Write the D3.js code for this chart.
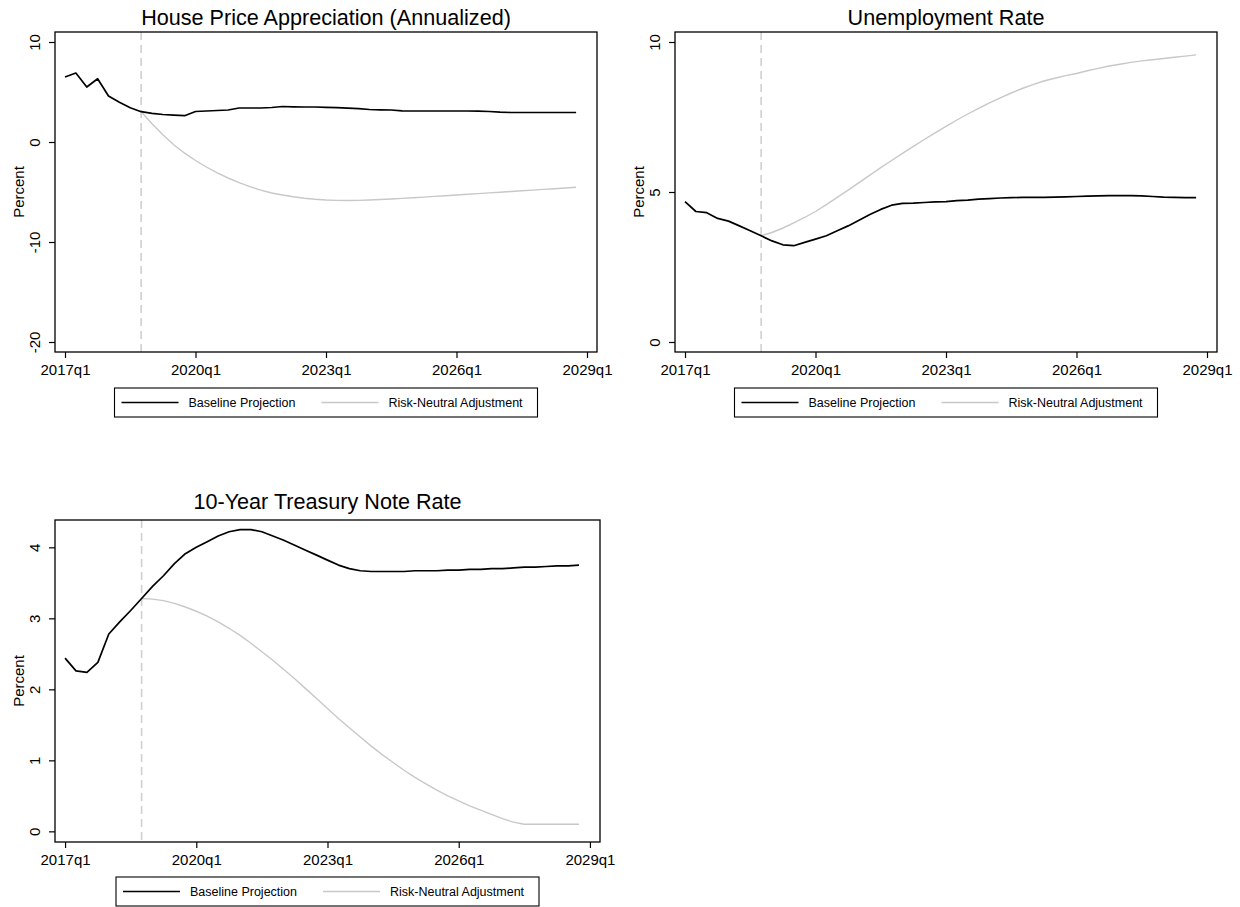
<!DOCTYPE html>
<html>
<head>
<meta charset="utf-8">
<script src="https://cdn.jsdelivr.net/npm/d3@7"></script>
<style>
body { margin: 0; background: #fff; }
svg { display: block; font-family: "Liberation Sans", Arial, sans-serif; }
</style>
</head>
<body>
<svg id="chart" width="1240" height="907"></svg>
<script>
// quarterly data, 2017q1 .. 2028q4
var FIRST_YEAR = 2017;
var quarters = [];
for (var yr = 2017; yr <= 2028; yr++) {
    for (var q = 1; q <= 4; q++) quarters.push(yr + "q" + q);
}
var xTickLabels = ["2017q1", "2020q1", "2023q1", "2026q1", "2029q1"];
var forecastStart = "2018q4";   // dashed line, start of risk-neutral path
var seriesNames = ["Baseline Projection", "Risk-Neutral Adjustment"];

// House price appreciation (annualized, percent)
var hpaBaseline = [6.5, 6.9, 5.5, 6.33, 4.6, 3.97, 3.43, 3.03, 2.87, 2.75,
    2.68, 2.63, 3.05, 3.1, 3.15, 3.2, 3.4, 3.4, 3.4, 3.45,
    3.55, 3.52, 3.5, 3.5, 3.47, 3.43, 3.38, 3.33, 3.25, 3.22,
    3.2, 3.12, 3.1, 3.1, 3.1, 3.1, 3.1, 3.1, 3.08, 3.05,
    2.98, 2.95, 2.95, 2.95, 2.95, 2.95, 2.95, 2.95];
var hpaRiskNeutral = [3.03, 1.83, 0.73, -0.27, -1.12, -1.85, -2.5, -3.08, -3.6, -4.06,
    -4.46, -4.81, -5.1, -5.3, -5.48, -5.62, -5.73, -5.8, -5.84, -5.85,
    -5.84, -5.8, -5.75, -5.7, -5.64, -5.58, -5.51, -5.44, -5.37, -5.3,
    -5.23, -5.16, -5.09, -5.02, -4.95, -4.88, -4.81, -4.74, -4.67, -4.6, -4.53];

// Unemployment rate (percent)
var urBaseline = [4.68, 4.35, 4.31, 4.12, 4.03, 3.87, 3.71, 3.54, 3.37, 3.24,
    3.21, 3.32, 3.43, 3.54, 3.71, 3.87, 4.06, 4.25, 4.42, 4.56,
    4.62, 4.63, 4.65, 4.67, 4.68, 4.71, 4.73, 4.76, 4.78, 4.8,
    4.81, 4.82, 4.82, 4.82, 4.83, 4.84, 4.85, 4.86, 4.87, 4.88,
    4.88, 4.88, 4.87, 4.85, 4.83, 4.82, 4.81, 4.81];
var urRiskNeutral = [3.54, 3.65, 3.8, 3.97, 4.15, 4.35, 4.58, 4.82, 5.06, 5.31,
    5.56, 5.81, 6.05, 6.29, 6.52, 6.75, 6.97, 7.19, 7.4, 7.6,
    7.79, 7.97, 8.14, 8.3, 8.45, 8.58, 8.7, 8.79, 8.88, 8.95,
    9.04, 9.12, 9.2, 9.26, 9.32, 9.37, 9.41, 9.45, 9.49, 9.53, 9.57];

// 10-year treasury note rate (percent)
var tnBaseline = [2.44, 2.26, 2.24, 2.38, 2.78, 2.95, 3.11, 3.28, 3.45, 3.6,
    3.77, 3.91, 4.0, 4.08, 4.16, 4.22, 4.25, 4.25, 4.22, 4.16,
    4.1, 4.03, 3.96, 3.89, 3.82, 3.75, 3.7, 3.67, 3.66, 3.66,
    3.66, 3.66, 3.67, 3.67, 3.67, 3.68, 3.68, 3.69, 3.69, 3.7,
    3.7, 3.71, 3.72, 3.72, 3.73, 3.74, 3.74, 3.75];
var tnRiskNeutral = [3.28, 3.27, 3.25, 3.21, 3.16, 3.1, 3.03, 2.95, 2.86, 2.76,
    2.65, 2.53, 2.41, 2.28, 2.15, 2.01, 1.87, 1.73, 1.59, 1.46,
    1.33, 1.2, 1.08, 0.97, 0.86, 0.76, 0.67, 0.58, 0.5, 0.43,
    0.36, 0.3, 0.24, 0.18, 0.13, 0.1, 0.1, 0.1, 0.1, 0.1, 0.1];

var hpaYTicks = [-20, -10, 0, 10];
var urYTicks = [0, 5, 10];
var tnYTicks = [0, 1, 2, 3, 4];

var BLACK = "#000";
var GREY = "#c8c8c8";
var DASH_GREY = "#d0d0d0";
var TICK_LEN = 6;
var LEGEND_W = 423;
var LEGEND_H = 29;

function quarterIndex(label) {
    var year = +label.slice(0, 4);
    var q = +label.slice(5);
    return (year - FIRST_YEAR) * 4 + (q - 1);
}

var panels = [
    {title: "House Price Appreciation (Annualized)", baseline: hpaBaseline, riskNeutral: hpaRiskNeutral,
     yTicks: hpaYTicks, yDomain: [-21, 11],
     box: {x0: 55, x1: 597, y0: 32, y1: 352}, titleY: 25, legendY: 388},
    {title: "Unemployment Rate", baseline: urBaseline, riskNeutral: urRiskNeutral,
     yTicks: urYTicks, yDomain: [-1 / 3, 31 / 3],
     box: {x0: 675, x1: 1217, y0: 32, y1: 352}, titleY: 25, legendY: 388},
    {title: "10-Year Treasury Note Rate", baseline: tnBaseline, riskNeutral: tnRiskNeutral,
     yTicks: tnYTicks, yDomain: [-0.15, 4.385],
     box: {x0: 55, x1: 600, y0: 520, y1: 842}, titleY: 509, legendY: 877}
];

var svg = d3.select("#chart");
svg.append("rect").attr("width", 1240).attr("height", 907).attr("fill", "#fff");

function drawPanel(p) {
    var g = svg.append("g");
    var b = p.box;
    var start = quarterIndex(forecastStart);

    var x = d3.scaleLinear().domain([-0.92, 48.92]).range([b.x0, b.x1]);
    var y = d3.scaleLinear().domain(p.yDomain).range([b.y1, b.y0]);

    // title
    g.append("text")
        .attr("x", (b.x0 + b.x1) / 2)
        .attr("y", p.titleY)
        .attr("text-anchor", "middle")
        .style("font-size", "21.6px")
        .text(p.title);

    // x axis
    var xAxis = d3.axisBottom(x)
        .tickValues(xTickLabels.map(quarterIndex))
        .tickFormat(function(d, i) { return xTickLabels[i]; })
        .tickSize(TICK_LEN)
        .tickPadding(6);
    var gx = g.append("g")
        .attr("transform", "translate(0," + b.y1 + ")")
        .call(xAxis);
    gx.select(".domain").remove();
    gx.selectAll(".tick line").attr("stroke", BLACK).attr("stroke-width", 1.2);
    gx.selectAll(".tick text")
        .attr("fill", BLACK)
        .style("font-size", "15px")
        .style("font-family", "'Liberation Sans', Arial, sans-serif");

    // y axis with rotated labels (plain hyphen for negatives)
    var yAxis = d3.axisLeft(y)
        .tickValues(p.yTicks)
        .tickFormat(function(d) { return String(d); })
        .tickSize(TICK_LEN);
    var gy = g.append("g")
        .attr("transform", "translate(" + b.x0 + ",0)")
        .call(yAxis);
    gy.select(".domain").remove();
    gy.selectAll(".tick line").attr("stroke", BLACK).attr("stroke-width", 1.2);
    gy.selectAll(".tick text")
        .attr("x", null).attr("dy", null)
        .attr("fill", BLACK)
        .attr("text-anchor", "middle")
        .attr("transform", "translate(" + (-15) + ",0) rotate(-90)")
        .style("font-size", "15px")
        .style("font-family", "'Liberation Sans', Arial, sans-serif");

    g.append("text")
        .attr("transform", "translate(" + (b.x0 - 31) + "," + ((b.y0 + b.y1) / 2) + ") rotate(-90)")
        .attr("text-anchor", "middle")
        .style("font-size", "15px")
        .text("Percent");

    // forecast start marker
    g.append("line")
        .attr("x1", x(start)).attr("x2", x(start))
        .attr("y1", b.y0).attr("y2", b.y1)
        .attr("stroke", DASH_GREY)
        .attr("stroke-width", 1.6)
        .attr("stroke-dasharray", "8,5");

    var line = d3.line()
        .x(function(d) { return x(d[0]); })
        .y(function(d) { return y(d[1]); });

    var rn = p.riskNeutral.map(function(v, i) { return [start + i, v]; });
    var base = p.baseline.map(function(v, i) { return [i, v]; });

    g.append("path")
        .datum(rn)
        .attr("d", line)
        .attr("fill", "none")
        .attr("stroke", GREY)
        .attr("stroke-width", 1.4);

    g.append("path")
        .datum(base)
        .attr("d", line)
        .attr("fill", "none")
        .attr("stroke", BLACK)
        .attr("stroke-width", 1.7)
        .attr("stroke-linejoin", "round");

    // plot frame
    g.append("rect")
        .attr("x", b.x0).attr("y", b.y0)
        .attr("width", b.x1 - b.x0).attr("height", b.y1 - b.y0)
        .attr("fill", "none")
        .attr("stroke", BLACK)
        .attr("stroke-width", 1.3);

    // legend
    var lx = (b.x0 + b.x1) / 2 - LEGEND_W / 2;
    var lg = g.append("g").attr("transform", "translate(" + lx + "," + p.legendY + ")");
    lg.append("rect")
        .attr("width", LEGEND_W).attr("height", LEGEND_H)
        .attr("fill", "#fff")
        .attr("stroke", BLACK)
        .attr("stroke-width", 1.1);
    var items = [
        {name: seriesNames[0], color: BLACK, width: 1.7, x: 7},
        {name: seriesNames[1], color: GREY, width: 1.4, x: 207}
    ];
    items.forEach(function(it) {
        lg.append("line")
            .attr("x1", it.x).attr("x2", it.x + 57)
            .attr("y1", LEGEND_H / 2).attr("y2", LEGEND_H / 2)
            .attr("stroke", it.color)
            .attr("stroke-width", it.width);
        lg.append("text")
            .attr("x", it.x + 67)
            .attr("y", LEGEND_H / 2)
            .attr("dy", "0.36em")
            .style("font-size", "12.5px")
            .text(it.name);
    });
}

panels.forEach(function(p) {
    drawPanel(p);
});
</script>
</body>
</html>
